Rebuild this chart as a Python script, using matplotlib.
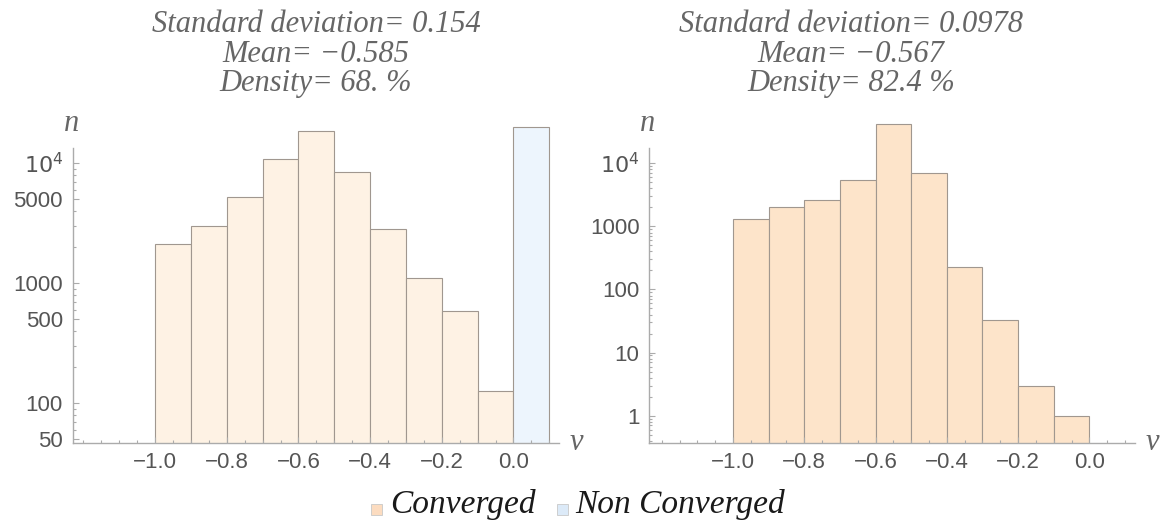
import numpy as np
import matplotlib.pyplot as plt
from matplotlib.patches import Rectangle
from matplotlib.ticker import FixedLocator, MultipleLocator, NullFormatter

# bin edges shared by both histograms
edges = [-1.0, -0.9, -0.8, -0.7, -0.6, -0.5, -0.4, -0.3, -0.2, -0.1, 0.0]

# run A: converged counts plus the non-converged bin at [0, 0.1]
counts_a = [2110, 2990, 5240, 10800, 18600, 8410, 2840, 1100, 590, 127]
nonconv_a = 20200
stats_a = ["0.154", "\u22120.585", "68. "]

# run B: converged counts only
counts_b = [1300, 2010, 2620, 5370, 42000, 7110, 225, 33, 3, 1]
stats_b = ["0.0978", "\u22120.567", "82.4 "]

yticks_a = [50, 100, 500, 1000, 5000, 10000]
yticks_b = [1, 10, 100, 1000, 10000]

W, H = 1166, 525
fig = plt.figure(figsize=(W / 100, H / 100), dpi=100)

axis_gray = "#ababab"
label_gray = "#555555"
serif = ["Liberation Serif", "DejaVu Serif"]
sans = ["Liberation Sans", "DejaVu Sans"]


def px_axes(x0, x1, y_top, y_bot):
    return fig.add_axes([x0 / W, 1 - y_bot / H, (x1 - x0) / W, (y_bot - y_top) / H])


def tick_label(v):
    if v >= 10000:
        return r"$10^{%d}$" % int(np.log10(v))
    return str(v)


def log_minors(lo, hi):
    # 2..9 x 10^d, only where the axis line is drawn
    out = []
    for d in range(int(np.floor(np.log10(lo))), int(np.ceil(np.log10(hi))) + 1):
        for k in range(2, 10):
            v = k * 10.0 ** d
            if lo <= v <= hi:
                out.append(v)
    return out


def style(ax, xlim, ylim, yticks, spine_top):
    ax.set_yscale("log")
    ax.set_xlim(*xlim)
    ax.set_ylim(*ylim)
    for s in ["top", "right"]:
        ax.spines[s].set_visible(False)
    for s in ["left", "bottom"]:
        ax.spines[s].set_color(axis_gray)
        ax.spines[s].set_linewidth(1.0)
    ax.spines["left"].set_bounds(ylim[0], spine_top)
    ax.xaxis.set_major_locator(FixedLocator([-1.0, -0.8, -0.6, -0.4, -0.2, 0.0]))
    ax.xaxis.set_minor_locator(MultipleLocator(0.05))
    ax.set_xticklabels(["\u22121.0", "\u22120.8", "\u22120.6", "\u22120.4", "\u22120.2", "0.0"])
    ax.yaxis.set_major_locator(FixedLocator(yticks))
    ax.set_yticklabels([tick_label(v) for v in yticks])
    ax.yaxis.set_minor_locator(FixedLocator(log_minors(ylim[0], spine_top)))
    ax.yaxis.set_minor_formatter(NullFormatter())
    ax.tick_params(which="both", direction="in", color=axis_gray, width=0.8)
    ax.tick_params(which="major", length=4.5, labelsize=16, labelcolor=label_gray, pad=7)
    ax.tick_params(which="minor", length=2.5)
    for lab in ax.get_xticklabels() + ax.get_yticklabels():
        lab.set_family(sans)
    ax.patch.set_visible(False)


def bars(ax, counts, color):
    left = np.array(edges[:-1])
    ax.bar(left, counts, width=np.diff(edges), align="edge", bottom=1e-3,
           color=color, edgecolor="#a0978f", linewidth=0.8)


# left panel
ax1 = px_axes(72.7, 559.3, 120, 442.7)
bars(ax1, counts_a, "#fef2e4")
ax1.bar([0.0], [nonconv_a], width=0.1, align="edge", bottom=1e-3,
        color="#edf5fd", edgecolor="#a0978f", linewidth=0.8)
style(ax1, (-1.23, 0.128), (10 ** 1.672, 10 ** 4.361), yticks_a, 10 ** 4.128)

# right panel
ax2 = px_axes(649.3, 1135, 120, 442.7)
bars(ax2, counts_b, "#fde4ca")
style(ax2, (-1.235, 0.128), (10 ** -0.428, 10 ** 4.686), yticks_b, 10 ** 4.242)

# axis names
for x, y in [(72, 131), (648, 131)]:
    fig.text(x / W, 1 - y / H, "n", family=serif, style="italic", fontsize=22,
             color="#666666", ha="center", va="baseline")
for x, y in [(576, 450), (1152, 450)]:
    fig.text(x / W, 1 - y / H, "v", family=serif, style="italic", fontsize=22,
             color="#666666", ha="center", va="baseline")

# statistics above each panel
for cx, st in [(316, stats_a), (851, stats_b)]:
    lines = ["Standard deviation= " + st[0], "Mean= " + st[1], "Density= " + st[2] + "%"]
    for line, base in zip(lines, [32, 62, 91]):
        fig.text(cx / W, 1 - base / H, line, family=serif, style="italic",
                 fontsize=22, color="#666666", ha="center", va="baseline")

# legend
for sx, tx, lab, col in [(371, 390, "Converged", "#fcdcc0"),
                         (557, 575, "Non Converged", "#dceaf8")]:
    fig.add_artist(Rectangle((sx / W, 1 - 515 / H), 11 / W, 11 / H,
                             transform=fig.transFigure, facecolor=col,
                             edgecolor="#c8c8c8", linewidth=0.6))
    fig.text(tx / W, 1 - 513 / H, lab, family=serif, style="italic",
             fontsize=24, color="#1a1a1a", ha="left", va="baseline")

fig.savefig("out.png", dpi=100)
